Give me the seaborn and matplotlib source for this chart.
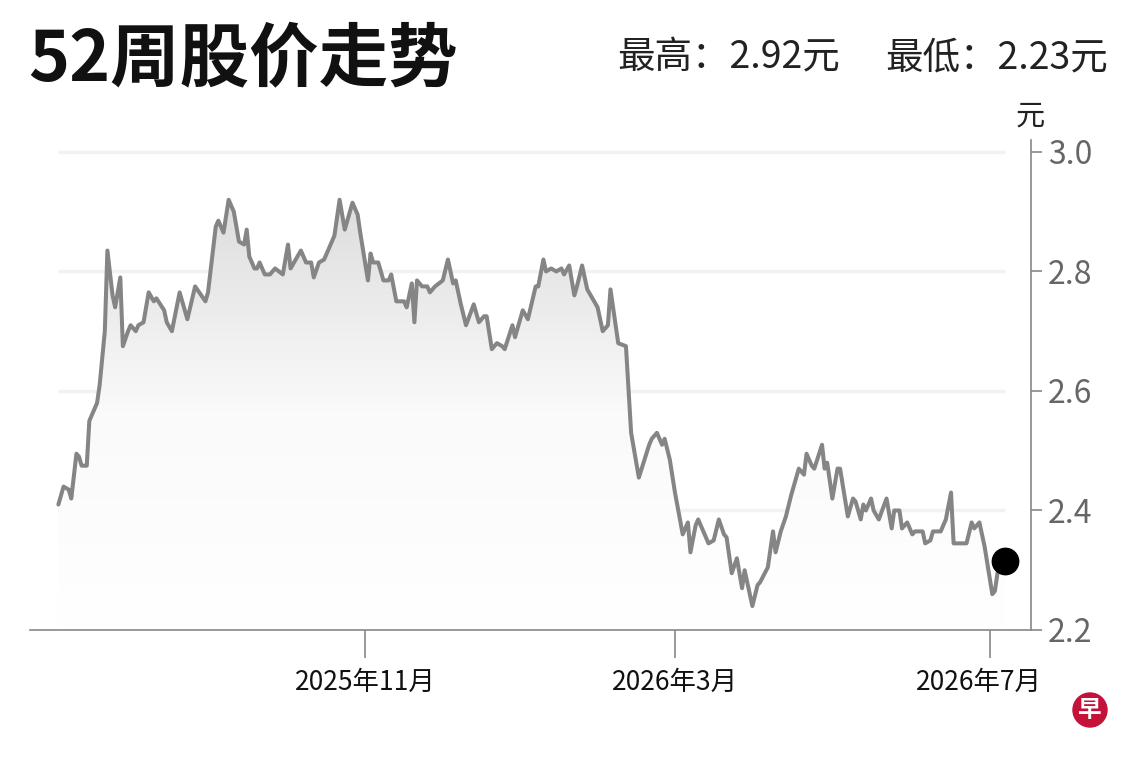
import pandas as pd
import numpy as np
import seaborn as sns
import matplotlib.pyplot as plt
import matplotlib.dates as mdates
from matplotlib.colors import LinearSegmentedColormap
from matplotlib.patches import Circle
from matplotlib.transforms import ScaledTranslation

# 52-week closing prices
dates = [
    '2025-07-05', '2025-07-07', '2025-07-09', '2025-07-10', '2025-07-12', '2025-07-13',
    '2025-07-14', '2025-07-16', '2025-07-17', '2025-07-20', '2025-07-21', '2025-07-23',
    '2025-07-24', '2025-07-26', '2025-07-27', '2025-07-29', '2025-07-30', '2025-08-01',
    '2025-08-02', '2025-08-04', '2025-08-05', '2025-08-07', '2025-08-09', '2025-08-11',
    '2025-08-12', '2025-08-15', '2025-08-16', '2025-08-18', '2025-08-21', '2025-08-24',
    '2025-08-27', '2025-08-31', '2025-09-01', '2025-09-04', '2025-09-05', '2025-09-07',
    '2025-09-09', '2025-09-11', '2025-09-13', '2025-09-15', '2025-09-16', '2025-09-17',
    '2025-09-19', '2025-09-20', '2025-09-21', '2025-09-23', '2025-09-25', '2025-09-27',
    '2025-09-30', '2025-10-02', '2025-10-03', '2025-10-05', '2025-10-07', '2025-10-09',
    '2025-10-11', '2025-10-12', '2025-10-14', '2025-10-16', '2025-10-19', '2025-10-20',
    '2025-10-22', '2025-10-24', '2025-10-27', '2025-10-29', '2025-10-30', '2025-11-02',
    '2025-11-03', '2025-11-04', '2025-11-06', '2025-11-08', '2025-11-10', '2025-11-11',
    '2025-11-13', '2025-11-16', '2025-11-17', '2025-11-19', '2025-11-20', '2025-11-21',
    '2025-11-23', '2025-11-25', '2025-11-26', '2025-11-28', '2025-12-01', '2025-12-03',
    '2025-12-05', '2025-12-06', '2025-12-08', '2025-12-10', '2025-12-13', '2025-12-15',
    '2025-12-17', '2025-12-18', '2025-12-20', '2025-12-22', '2025-12-24', '2025-12-25',
    '2025-12-28', '2025-12-29', '2026-01-01', '2026-01-03', '2026-01-06', '2026-01-07',
    '2026-01-09', '2026-01-10', '2026-01-12', '2026-01-14', '2026-01-16', '2026-01-17',
    '2026-01-19', '2026-01-21', '2026-01-22', '2026-01-24', '2026-01-26', '2026-01-28',
    '2026-01-30', '2026-02-01', '2026-02-03', '2026-02-04', '2026-02-06', '2026-02-07',
    '2026-02-10', '2026-02-12', '2026-02-15', '2026-02-19', '2026-02-20', '2026-02-22',
    '2026-02-24', '2026-02-25', '2026-02-27', '2026-03-01', '2026-03-04', '2026-03-06',
    '2026-03-07', '2026-03-09', '2026-03-10', '2026-03-14', '2026-03-16', '2026-03-18',
    '2026-03-20', '2026-03-21', '2026-03-23', '2026-03-25', '2026-03-27', '2026-03-28',
    '2026-03-31', '2026-04-02', '2026-04-03', '2026-04-06', '2026-04-08', '2026-04-09',
    '2026-04-11', '2026-04-13', '2026-04-15', '2026-04-18', '2026-04-20', '2026-04-21',
    '2026-04-23', '2026-04-24', '2026-04-27', '2026-04-28', '2026-04-29', '2026-05-01',
    '2026-05-03', '2026-05-04', '2026-05-07', '2026-05-09', '2026-05-10', '2026-05-12',
    '2026-05-13', '2026-05-14', '2026-05-16', '2026-05-17', '2026-05-19', '2026-05-22',
    '2026-05-24', '2026-05-25', '2026-05-27', '2026-05-28', '2026-05-30', '2026-06-01',
    '2026-06-02', '2026-06-03', '2026-06-05', '2026-06-06', '2026-06-08', '2026-06-09',
    '2026-06-12', '2026-06-14', '2026-06-16', '2026-06-17', '2026-06-22', '2026-06-24',
    '2026-06-25', '2026-06-27', '2026-06-29', '2026-07-02', '2026-07-03', '2026-07-04',
    '2026-07-07',
]
prices = [
    2.41, 2.44, 2.435, 2.42, 2.495, 2.49,
    2.475, 2.475, 2.55, 2.58, 2.61, 2.70,
    2.835, 2.76, 2.74, 2.79, 2.675, 2.70,
    2.71, 2.70, 2.71, 2.715, 2.765, 2.75,
    2.755, 2.735, 2.715, 2.70, 2.765, 2.72,
    2.775, 2.75, 2.765, 2.875, 2.885, 2.865,
    2.92, 2.90, 2.85, 2.845, 2.87, 2.825,
    2.805, 2.805, 2.815, 2.795, 2.795, 2.805,
    2.795, 2.845, 2.805, 2.82, 2.835, 2.815,
    2.815, 2.79, 2.815, 2.82, 2.85, 2.86,
    2.92, 2.87, 2.915, 2.895, 2.865, 2.785,
    2.83, 2.815, 2.815, 2.785, 2.785, 2.795,
    2.75, 2.75, 2.74, 2.78, 2.715, 2.785,
    2.775, 2.775, 2.765, 2.775, 2.785, 2.82,
    2.78, 2.785, 2.745, 2.71, 2.745, 2.715,
    2.725, 2.725, 2.67, 2.68, 2.675, 2.67,
    2.71, 2.69, 2.735, 2.72, 2.775, 2.775,
    2.82, 2.80, 2.805, 2.80, 2.805, 2.795,
    2.81, 2.76, 2.775, 2.81, 2.77, 2.755,
    2.74, 2.70, 2.71, 2.77, 2.71, 2.68,
    2.675, 2.53, 2.455, 2.51, 2.52, 2.53,
    2.51, 2.52, 2.485, 2.43, 2.36, 2.38,
    2.33, 2.375, 2.385, 2.345, 2.35, 2.385,
    2.36, 2.355, 2.295, 2.32, 2.27, 2.30,
    2.24, 2.275, 2.28, 2.305, 2.365, 2.33,
    2.365, 2.39, 2.425, 2.47, 2.46, 2.495,
    2.475, 2.47, 2.51, 2.47, 2.48, 2.42,
    2.47, 2.47, 2.39, 2.42, 2.415, 2.385,
    2.41, 2.40, 2.42, 2.40, 2.385, 2.42,
    2.37, 2.40, 2.40, 2.37, 2.38, 2.36,
    2.365, 2.365, 2.365, 2.345, 2.35, 2.365,
    2.365, 2.385, 2.43, 2.345, 2.345, 2.38,
    2.37, 2.38, 2.34, 2.26, 2.265, 2.295,
    2.315,
]

y_ticks = [2.2, 2.4, 2.6, 2.8, 3.0]
x_tick_dates = ['2025-11-01', '2026-03-01', '2026-07-01']
x_tick_labels = ['2025年11月', '2026年3月', '2026年7月']

sns.set_theme(style='white')
plt.rcParams['font.family'] = ['Noto Sans CJK SC', 'DejaVu Sans']

df = pd.DataFrame({'date': pd.to_datetime(dates), 'price': prices})

fig = plt.figure(figsize=(11.4, 7.6), dpi=100)
ax = fig.add_axes([30 / 1140, 130 / 760, 1001 / 1140, 490 / 760])

# horizontal guide lines only across the data range
ax.hlines(y_ticks[1:], df.date.min(), df.date.max(), color='#f2f2f2', linewidth=2.5, zorder=0)

sns.lineplot(data=df, x='date', y='price', color='#858585', linewidth=2.9, ax=ax, zorder=3)

# soft grey gradient under the line
x0 = mdates.date2num(df.date.min())
x1 = mdates.date2num(df.date.max())
grad = np.linspace(0, 1, 256).reshape(-1, 1)
fade = LinearSegmentedColormap.from_list('fade', ['#ffffff', '#fafafa', '#dcdcdc'])
img = ax.imshow(grad, aspect='auto', cmap=fade, origin='lower',
                extent=[x0, x1, 2.2, 2.93], zorder=1)
area = ax.fill_between(df.date, df.price, 2.2, facecolor='none', edgecolor='none')
img.set_clip_path(area.get_paths()[0], transform=ax.transData)

# last close marker
ax.plot(df.date.iloc[-1], df.price.iloc[-1], 'o', color='black', markersize=19, zorder=4)

ax.set_xlim(pd.Timestamp('2025-06-24'), pd.Timestamp('2026-07-17'))
ax.set_ylim(2.2, 3.02)
ax.set_xlabel('')
ax.set_ylabel('')

ax.yaxis.tick_right()
ax.set_yticks(y_ticks)
ax.set_yticklabels([f'{v:.1f}' for v in y_ticks])
ax.set_xticks(pd.to_datetime(x_tick_dates))
ax.set_xticklabels(x_tick_labels)

ax.tick_params(axis='y', direction='out', length=8, width=1.2, color='#888888',
               labelcolor='#666666', labelsize=23, pad=4, right=True, left=False)
ax.tick_params(axis='x', direction='out', length=20, width=1.2, color='#888888',
               labelcolor='#111111', labelsize=19, pad=8, bottom=True)

# last month label sits a bit left of its tick, as in the original
last_lbl = ax.get_xticklabels()[-1]
last_lbl.set_transform(last_lbl.get_transform() + ScaledTranslation(-0.11, 0, fig.dpi_scale_trans))

for side in ['left', 'top']:
    ax.spines[side].set_visible(False)
for side in ['bottom', 'right']:
    ax.spines[side].set_color('#888888')
    ax.spines[side].set_linewidth(1.2)

# header texts
fig.text(28 / 1140, 1 - 60 / 760, '52周股价走势', fontsize=50, fontweight='heavy',
         color='#111111', ha='left', va='center')
fig.text(840 / 1140, 1 - 58 / 760, '最高：2.92元', fontsize=27, color='#222222',
         ha='right', va='center')
fig.text(1108 / 1140, 1 - 58 / 760, '最低：2.23元', fontsize=27, color='#222222',
         ha='right', va='center')
fig.text(1030 / 1140, 1 - 117 / 760, '元', fontsize=21, color='#222222',
         ha='center', va='center')

# small red badge in the corner
badge = Circle((10.9, 0.5), 0.17, transform=fig.dpi_scale_trans, color='#c4123a')
fig.patches.append(badge)
fig.text(10.9 / 11.4, 0.5 / 7.6, '早', fontsize=17, fontweight='bold', color='white',
         ha='center', va='center')

fig.savefig('out.png', dpi=100)
